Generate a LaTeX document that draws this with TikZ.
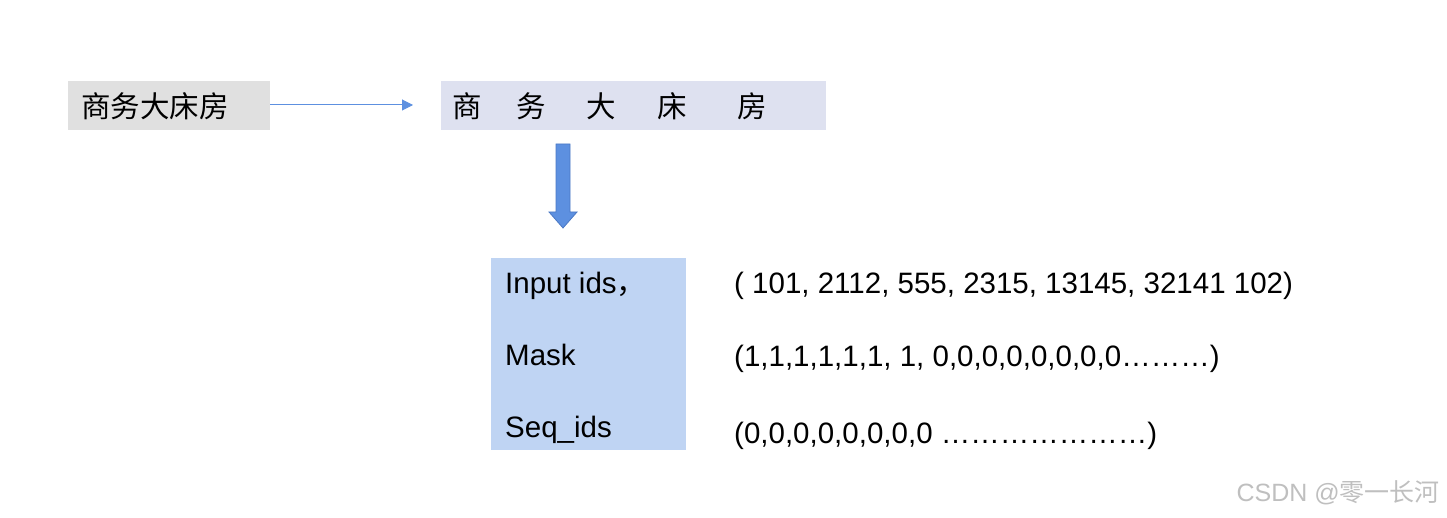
\documentclass[tikz,border=0pt]{standalone}
\usepackage{fontspec}
\setmainfont{Liberation Sans}
\newfontfamily\cjk{Noto Sans CJK SC}
\usetikzlibrary{arrows.meta}
\definecolor{graybox}{HTML}{E0E0E0}
\definecolor{lavbox}{HTML}{DEE1F0}
\definecolor{bluebox}{HTML}{BFD4F3}
\definecolor{arrowblue}{HTML}{5D90E0}
\definecolor{arrowedge}{HTML}{4A78C4}
\begin{document}
\begin{tikzpicture}[x=1bp,y=-1bp,
  txt/.style={inner sep=0pt,anchor=base west,font=\fontsize{29.5bp}{34bp}\selectfont},
  cjkch/.style={inner sep=0pt,anchor=center,font=\cjk\fontsize{29.5bp}{34bp}\selectfont}]
\useasboundingbox (0,0) rectangle (1447,518);
% boxes
\fill[graybox] (68,81) rectangle (270,130);
\coordinate (lbE) at (270,105);
\fill[lavbox] (441,81) rectangle (826,130);
\coordinate (rbW) at (413,105);
\fill[bluebox] (491,258) rectangle (686,450);
% left text
\node[cjkch] (src) at (155,106) {商务大床房};
% spaced characters
\node[cjkch] (c1) at (467,106) {商};
\node[cjkch] (c2) at (531,106) {务};
\node[cjkch] (c3) at (601,106) {大};
\node[cjkch] (c4) at (672,106) {床};
\node[cjkch] (c5) at (752,106) {房};
% thin arrow
\draw[arrowblue,line width=1pt,-{Triangle[length=11bp,width=11bp]}] (lbE) -- (rbW);
% block arrow
\filldraw[fill=arrowblue,draw=arrowedge,line width=0.8pt]
  (556,144) -- (570,144) -- (570,212) -- (577,212) -- (563,228) -- (549,212) -- (556,212) -- cycle;
% labels
\node[txt] (l1) at (505,293) {Input ids{\cjk ，}};
\node[txt] (l2) at (505,365) {Mask};
\node[txt] (l3) at (505,437) {Seq\_ids};
% values
\node[txt] (v1) at (734,293) {( 101, 2112, 555, 2315, 13145, 32141 102)};
\node[txt] (v2) at (734,366) {(1,1,1,1,1,1, 1, 0,0,0,0,0,0,0,0………)};
\node[txt] (v3) at (734,443) {(0,0,0,0,0,0,0,0 …………………)};
% watermark
\node[inner sep=0pt,anchor=base east,text=black!25,font=\fontsize{25bp}{30bp}\selectfont] (wm) at (1440,501) {CSDN @{\cjk 零一长河}};
\end{tikzpicture}
\end{document}
